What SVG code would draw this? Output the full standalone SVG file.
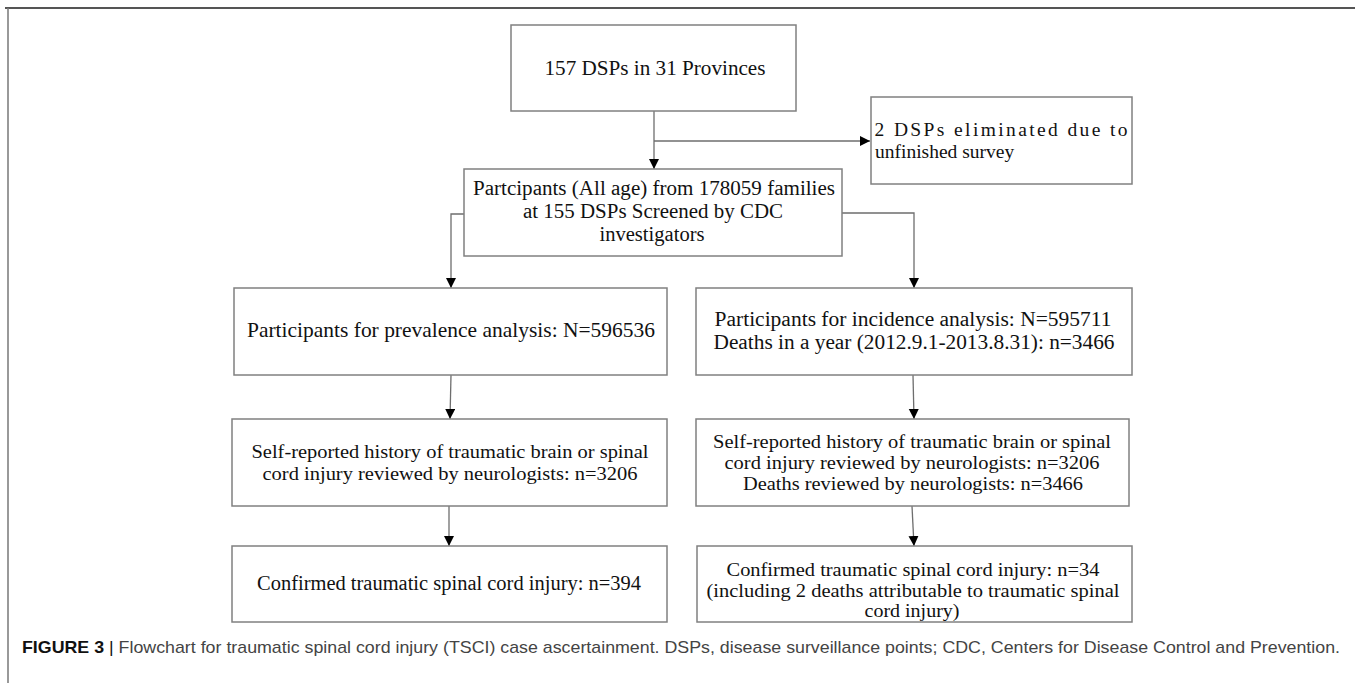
<svg xmlns="http://www.w3.org/2000/svg" width="1355" height="683" viewBox="0 0 1355 683">
<style>
.box{fill:#fff;stroke:#808080;stroke-width:1.5}
.t{font-family:"Liberation Serif","Times New Roman",serif;font-size:21px;fill:#111;text-anchor:middle}
.s{font-size:20.5px}
.m{font-size:19px}
.c{fill:none;stroke:#6e6e6e;stroke-width:1.3}
.cap{font-family:"Liberation Sans",Arial,sans-serif;font-size:17px;fill:#444}
</style>
<defs>
<marker id="ah" markerUnits="userSpaceOnUse" markerWidth="11" markerHeight="11" refX="10" refY="5" orient="auto">
<path d="M0,0 L10,5 L0,10 z" fill="#000"/>
</marker>
</defs>
<rect width="1355" height="683" fill="#fff"/>
<g id="frame">
<line x1="5" y1="8" x2="1355" y2="8" stroke="#555" stroke-width="2"/>
<line x1="8" y1="8" x2="8" y2="683" stroke="#777" stroke-width="1.5"/>
</g>
<g id="connectors">
<path class="c" d="M654,111 V169" marker-end="url(#ah)"/>
<path class="c" d="M654,141 H870" marker-end="url(#ah)"/>
<path class="c" d="M464,214 H451 V288" marker-end="url(#ah)"/>
<path class="c" d="M842,213 H914 V288" marker-end="url(#ah)"/>
<path class="c" d="M451,375 L450,419" marker-end="url(#ah)"/>
<path class="c" d="M913,375 L914,419" marker-end="url(#ah)"/>
<path class="c" d="M449,506 V546" marker-end="url(#ah)"/>
<path class="c" d="M912,506 L914,546" marker-end="url(#ah)"/>
</g>
<g id="n1">
<rect class="box" x="511" y="25" width="285" height="86"/>
<text class="t" x="655" y="75" textLength="221" lengthAdjust="spacingAndGlyphs">157 DSPs in  31 Provinces</text>
</g>
<g id="n2">
<rect class="box" x="871" y="97" width="261" height="87"/>
<text class="t" x="1001" y="136" textLength="253" lengthAdjust="spacing" style="font-size:19.5px">2 DSPs eliminated due to</text>
<text class="t" x="875" y="158" style="font-size:19.5px;text-anchor:start">unfinished survey</text>
</g>
<g id="n3">
<rect class="box" x="464" y="169" width="378" height="87"/>
<text class="t" x="654" y="195" textLength="362" lengthAdjust="spacingAndGlyphs" style="font-size:20px">Partcipants (All age) from 178059 families</text>
<text class="t" x="653" y="218" textLength="260" lengthAdjust="spacingAndGlyphs" style="font-size:20px">at 155 DSPs Screened by CDC</text>
<text class="t" x="652" y="241" textLength="105" lengthAdjust="spacingAndGlyphs" style="font-size:20px">investigators</text>
</g>
<g id="n4">
<rect class="box" x="234" y="288" width="433" height="87"/>
<text class="t" x="451" y="337" textLength="408" lengthAdjust="spacingAndGlyphs">Participants for prevalence analysis: N=596536</text>
</g>
<g id="n5">
<rect class="box" x="696" y="288" width="436" height="87"/>
<text class="t s" x="913" y="326" textLength="397" lengthAdjust="spacingAndGlyphs">Participants for incidence analysis: N=595711</text>
<text class="t s" x="914" y="349" textLength="401" lengthAdjust="spacingAndGlyphs">Deaths in a year (2012.9.1-2013.8.31): n=3466</text>
</g>
<g id="n6">
<rect class="box" x="232" y="419" width="435" height="87"/>
<text class="t m" x="450" y="458" textLength="397" lengthAdjust="spacingAndGlyphs">Self-reported history of traumatic brain or spinal</text>
<text class="t m" x="450" y="480" textLength="375" lengthAdjust="spacingAndGlyphs">cord injury reviewed by neurologists: n=3206</text>
</g>
<g id="n7">
<rect class="box" x="696" y="419" width="433" height="87"/>
<text class="t m" x="912" y="448" textLength="398" lengthAdjust="spacingAndGlyphs">Self-reported history of traumatic brain or spinal</text>
<text class="t m" x="912" y="469" textLength="375" lengthAdjust="spacingAndGlyphs">cord injury reviewed by neurologists: n=3206</text>
<text class="t m" x="913" y="490" textLength="340" lengthAdjust="spacingAndGlyphs">Deaths reviewed by neurologists: n=3466</text>
</g>
<g id="n8">
<rect class="box" x="232" y="546" width="435" height="76"/>
<text class="t s" x="449" y="590" textLength="384" lengthAdjust="spacingAndGlyphs">Confirmed traumatic spinal cord injury: n=394</text>
</g>
<g id="n9">
<rect class="box" x="697" y="546" width="435" height="76"/>
<text class="t m" x="913" y="576" textLength="373" lengthAdjust="spacingAndGlyphs">Confirmed traumatic spinal cord injury: n=34</text>
<text class="t m" x="913" y="597" textLength="413" lengthAdjust="spacingAndGlyphs">(including 2 deaths attributable to traumatic spinal</text>
<text class="t m" x="912" y="617" textLength="95" lengthAdjust="spacingAndGlyphs">cord injury)</text>
</g>
<g id="caption">
<text class="cap" x="22" y="653" textLength="1318" lengthAdjust="spacingAndGlyphs"><tspan font-weight="bold" fill="#111">FIGURE 3</tspan><tspan fill="#111"> | </tspan>Flowchart for traumatic spinal cord injury (TSCI) case ascertainment. DSPs, disease surveillance points; CDC, Centers for Disease Control and Prevention.</text>
</g>
</svg>
